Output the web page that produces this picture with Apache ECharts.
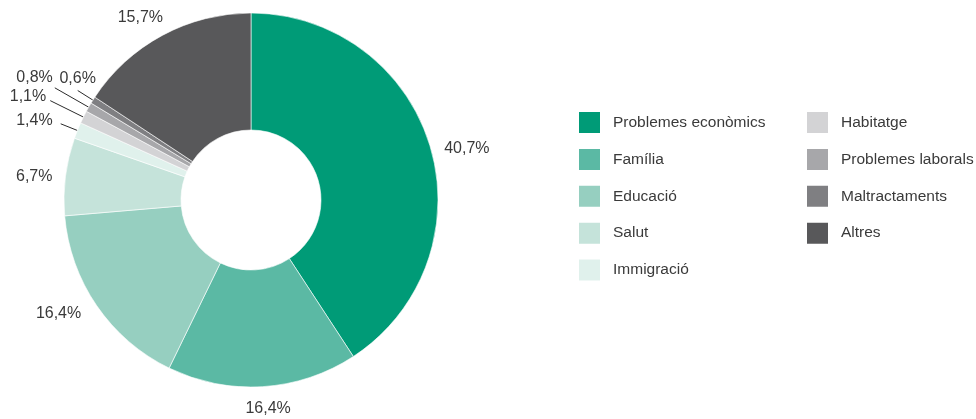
<!DOCTYPE html>
<html>
<head>
<meta charset="utf-8">
<script src="https://cdn.jsdelivr.net/npm/echarts@6/dist/echarts.min.js"></script>
<style>
  html, body { margin: 0; padding: 0; background: #fff; }
  #chart { width: 976px; height: 419px; }
</style>
</head>
<body>
<div id="chart"></div>
<script>
// Categories and shares (%)
const categories = [
  'Problemes econòmics', 'Família', 'Educació', 'Salut', 'Immigració',
  'Habitatge', 'Problemes laborals', 'Maltractaments', 'Altres'
];
const shares = [40.7, 16.4, 16.4, 6.7, 1.4, 1.1, 0.8, 0.6, 15.7];
const colors = [
  '#009b77', '#5bb9a4', '#96cfc0', '#c5e3da', '#e0f1ec',
  '#d3d3d5', '#a7a7aa', '#7f7f82', '#58585a'
];

// Label line lengths per slice: [radial length, horizontal length, show line, gap to text]
const leader = [
  [0, 10, false, 4], [22, 0, false, 4], [14, 0, false, 4], [2, 7, false, 4], [18, 0, true, 8],
  [37, 0, true, 4], [39, 0, true, 4], [18, 0, true, 4], [21, 8, false, 4]
];
// Extra nudges for labels that sit beside / above their leader line
const labelNudge = {
  0: { dy: 2 },
  1: { align: 'center' },
  4: { dy: -3 },
  5: { dy: -4 },
  6: { dy: -10, dx: 2 },
  7: { align: 'center', dy: -12, dx: 4 },
  8: { align: 'center', dy: 1 }
};

const fmt = v => v.toFixed(1).replace('.', ',') + '%';
const FONT = '"Liberation Sans", Arial, sans-serif';

const pieData = categories.map((name, i) => ({
  name,
  value: shares[i],
  itemStyle: { color: colors[i] },
  label: { distanceToLabelLine: leader[i][3] },
  labelLine: {
    show: leader[i][2],
    length: leader[i][0],
    length2: leader[i][1],
    lineStyle: { color: '#2b2b2b', width: 1 }
  }
}));

const chart = echarts.init(document.getElementById('chart'), null, { renderer: 'canvas' });

const legendBase = {
  orient: 'vertical',
  itemWidth: 23,
  itemHeight: 23,
  itemGap: 11.9,
  icon: 'rect',
  selectedMode: false,
  textStyle: { color: '#3a3a3a', fontSize: 15.5, fontFamily: FONT, padding: [0, 0, 0, 7] }
};

chart.setOption({
  animation: false,
  backgroundColor: '#ffffff',
  legend: [
    Object.assign({}, legendBase, { left: 572, top: 105, data: categories.slice(0, 5) }),
    Object.assign({}, legendBase, { left: 800, top: 105, data: categories.slice(5) })
  ],
  series: [{
    type: 'pie',
    center: [251, 200],
    radius: [70, 187],
    startAngle: 90,
    clockwise: true,
    avoidLabelOverlap: false,
    itemStyle: { borderColor: '#ffffff', borderWidth: 0.6 },
    label: {
      show: true,
      position: 'outside',
      formatter: p => fmt(p.value),
      color: '#3a3a3a',
      fontSize: 16,
      fontFamily: FONT
    },
    labelLayout: params => {
      const n = labelNudge[params.dataIndex];
      if (!n) return {};
      const out = {};
      if (n.align) out.align = n.align;
      if (n.dx || n.dy) {
        out.dx = n.dx || 0;
        out.dy = n.dy || 0;
        out.labelLinePoints = params.labelLinePoints;
      }
      return out;
    },
    emphasis: { disabled: true },
    data: pieData
  }]
});
</script>
</body>
</html>
